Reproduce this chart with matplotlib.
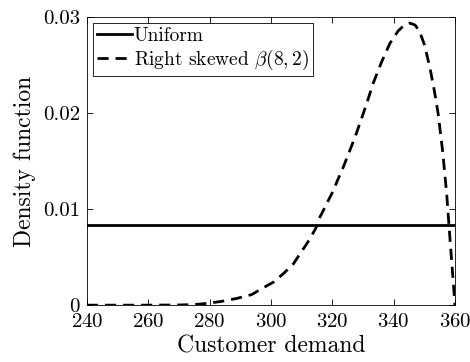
import numpy as np
import matplotlib.pyplot as plt

plt.rcParams['font.family'] = 'serif'
plt.rcParams['font.serif'] = ['cmr10']
plt.rcParams['mathtext.fontset'] = 'cm'
plt.rcParams['axes.formatter.use_mathtext'] = True

# uniform demand on [240, 360]
unif_x = [240, 360]
unif_y = [0.00833, 0.00833]

# right skewed beta(8,2) demand
beta_x = [240, 250, 260, 270, 275, 279, 284, 288.8, 293.7, 296.9, 300.8, 304.1, 307.3,
          310, 312.7, 314.9, 316, 319.8, 323.6, 327.4, 331.2, 333.3, 336,
          338.8, 341.5, 343.5, 345.3, 347, 348.5, 350, 351.8, 353.2, 354.5,
          356, 357.3, 358.4, 359.4, 360]
beta_y = [0.0, 0.0, 0.0, 0.00002, 0.00006, 0.00018, 0.0004, 0.0007, 0.0011, 0.0017, 0.0024,
          0.0033, 0.0043, 0.0056, 0.0069, 0.0082, 0.0092, 0.0116, 0.0144, 0.0175,
          0.0210, 0.0231, 0.0253, 0.0273, 0.0286, 0.0292, 0.0294, 0.0292,
          0.0285, 0.0272, 0.0248, 0.0225, 0.0200, 0.0160, 0.0116, 0.0068, 0.0026, 0.0]

fig = plt.figure(figsize=(4.7, 3.62), dpi=100)
ax = fig.add_axes([0.185, 0.157, 0.783, 0.795])
ax.plot(unif_x, unif_y, 'k-', lw=2, label='Uniform')
ax.plot(beta_x, beta_y, 'k--', lw=2, dashes=(4, 2.5), label=r'Right skewed $\beta(8,2)$')

ax.set_xlim(240, 360)
ax.set_ylim(0, 0.03)
ax.set_xticks(np.arange(240, 361, 20))
ax.set_yticks([0, 0.01, 0.02, 0.03])
ax.set_yticklabels(['0', '0.01', '0.02', '0.03'])
ax.tick_params(direction='in', top=True, right=True, labelsize=15, length=4, width=0.6)
ax.tick_params(axis='x', pad=6)
ax.tick_params(axis='y', pad=5)
for s in ax.spines.values():
    s.set_linewidth(0.6)
ax.set_xlabel('Customer demand', fontsize=17, labelpad=3)
ax.set_ylabel('Density function', fontsize=17, labelpad=5)

leg = ax.legend(loc='upper left', fontsize=14, handlelength=1.8, handletextpad=0.1,
                borderpad=0.2, labelspacing=0.15, fancybox=False, framealpha=1,
                borderaxespad=0.3)
leg.get_frame().set_edgecolor('k')
leg.get_frame().set_linewidth(0.6)

fig.savefig('out.png', dpi=100)
